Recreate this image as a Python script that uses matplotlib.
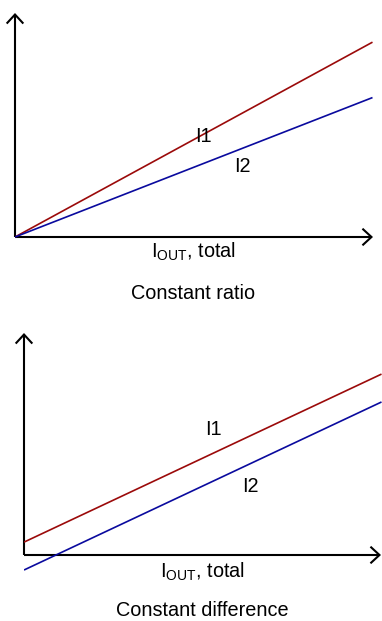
import matplotlib
matplotlib.use("Agg")
import matplotlib.pyplot as plt
from matplotlib.patches import FancyArrowPatch

plt.rcParams["font.family"] = ["Liberation Sans", "DejaVu Sans"]
plt.rcParams["mathtext.fontset"] = "custom"
plt.rcParams["mathtext.rm"] = "Liberation Sans"

# ---- data -------------------------------------------------------------------
X = [0, 10]
RATIO_I1 = [0, 5.45]
RATIO_I2 = [0, 3.90]
DIFF_I1 = [0.36, 5.06]
DIFF_I2 = [-0.42, 4.28]
LINE_LABELS = ["I1", "I2"]
XLABEL = r"$\mathrm{I_{OUT}}$, total"
TITLES = ["Constant ratio", "Constant difference"]

RED = "#9b0a0a"
BLUE = "#0a0a9e"
W, H = 382, 621
PX = 35.75        # pixels per data unit
FS = 14.3


def panel(fig, ox, oy, x_right, y_top, y_bottom):
    """axes with data origin at pixel (ox, oy), image coords (y down)"""
    left = ox / W
    bottom = (H - y_bottom) / H
    width = (x_right - ox) / W
    height = (y_bottom - y_top) / H
    ax = fig.add_axes([left, bottom, width, height])
    ax.set_xlim(0, (x_right - ox) / PX)
    ax.set_ylim(-(y_bottom - oy) / PX, (oy - y_top) / PX)
    ax.axis("off")
    return ax


def axis_arrows(ax, xtip, ytip):
    for end in [(xtip, 0), (0, ytip)]:
        ax.add_patch(FancyArrowPatch((0, 0), end,
                                     arrowstyle="->,head_length=0.65,head_width=0.6",
                                     mutation_scale=10, lw=1.5, color="black",
                                     shrinkA=0, shrinkB=0, clip_on=False,
                                     joinstyle="miter", capstyle="butt"))


fig = plt.figure(figsize=(W / 100, H / 100), dpi=100)

# top panel: constant ratio
ax1 = panel(fig, 15, 237, 382, 5, 305)
axis_arrows(ax1, (373 - 15) / PX, (237 - 13) / PX)
ax1.plot(X, RATIO_I1, color=RED, lw=1.2, solid_capstyle="butt")
ax1.plot(X, RATIO_I2, color=BLUE, lw=1.2, solid_capstyle="butt")
ax1.text(5.27, 2.80, LINE_LABELS[0], fontsize=FS, ha="center", va="center")
ax1.text(6.35, 1.96, LINE_LABELS[1], fontsize=FS, ha="center", va="center")
ax1.text(4.98, -0.42, XLABEL, fontsize=FS, ha="center", va="center")
ax1.text(4.98, -1.57, TITLES[0], fontsize=FS, ha="center", va="center")

# bottom panel: constant difference
ax2 = panel(fig, 24, 555, 382, 325, 621)
axis_arrows(ax2, (381 - 24) / PX, (555 - 333) / PX)
ax2.plot(X, DIFF_I1, color=RED, lw=1.2, solid_capstyle="butt")
ax2.plot(X, DIFF_I2, color=BLUE, lw=1.2, solid_capstyle="butt")
ax2.text(5.29, 3.50, LINE_LABELS[0], fontsize=FS, ha="center", va="center")
ax2.text(6.32, 1.93, LINE_LABELS[1], fontsize=FS, ha="center", va="center")
ax2.text(4.98, -0.48, XLABEL, fontsize=FS, ha="center", va="center")
ax2.text(4.98, -1.56, TITLES[1], fontsize=FS, ha="center", va="center")

fig.savefig("out.png", dpi=100)
